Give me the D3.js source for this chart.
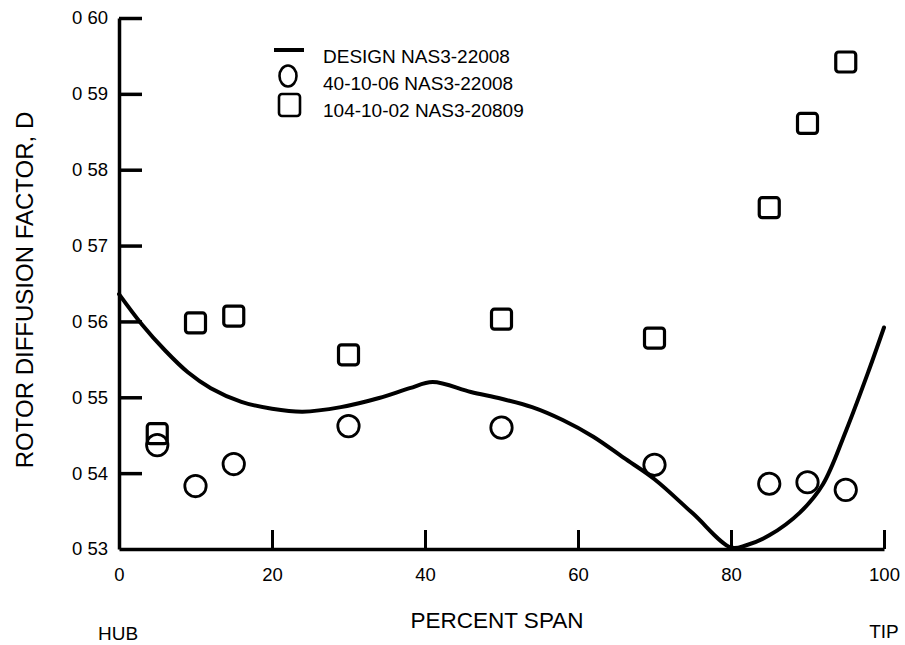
<!DOCTYPE html>
<html>
<head>
<meta charset="utf-8">
<script src="https://cdn.jsdelivr.net/npm/d3@7"></script>
<style>
  html, body { margin: 0; padding: 0; background: #fff; }
  svg { display: block; }
  text { font-family: "Liberation Sans", Arial, Helvetica, sans-serif; fill: #000; }
</style>
</head>
<body>
<svg id="chart" width="905" height="645"></svg>
<script>
// Design rotor diffusion factor along the span
const designSpan = [0, 3, 6, 9, 12, 16, 20, 24, 29, 34, 38, 41, 46, 50, 54, 58, 62, 66, 70, 75, 80, 82, 85, 89, 92, 95, 98, 100];
const designD    = [0.5636, 0.5596, 0.5562, 0.5533, 0.5512, 0.5494, 0.5485, 0.5481, 0.5487, 0.5499, 0.5512, 0.5520, 0.5507, 0.5498, 0.5487, 0.5470, 0.5448, 0.5420, 0.5392, 0.5347, 0.5302, 0.5305, 0.5318, 0.5348, 0.5385, 0.5455, 0.5535, 0.5592];

// Measured points, rotor 40-10-06 (NAS3-22008)
const rotor40Span = [5, 10, 15, 30, 50, 70, 85, 90, 95];
const rotor40D    = [0.5437, 0.5383, 0.5412, 0.5462, 0.5460, 0.5411, 0.5386, 0.5388, 0.5378];

// Measured points, rotor 104-10-02 (NAS3-20809)
const rotor104Span = [5, 10, 15, 30, 50, 70, 85, 90, 95];
const rotor104D    = [0.5452, 0.5598, 0.5607, 0.5556, 0.5603, 0.5578, 0.5750, 0.5861, 0.5942];

// Axis ticks
const xTickValues = [0, 20, 40, 60, 80, 100];
const xTickLabels = ["0", "20", "40", "60", "80", "100"];
const yTickValues = [0.53, 0.54, 0.55, 0.56, 0.57, 0.58, 0.59, 0.60];
const yTickLabels = ["0 53", "0 54", "0 55", "0 56", "0 57", "0 58", "0 59", "0 60"];

const legendLabels = ["DESIGN NAS3-22008", "40-10-06 NAS3-22008", "104-10-02 NAS3-20809"];

const svg = d3.select("#chart");

const x = d3.scaleLinear().domain([0, 100]).range([119, 884]);
const y = d3.scaleLinear().domain([0.53, 0.60]).range([549, 18]);

// Y axis: ticks point inward, labels on the left
const yAxis = d3.axisLeft(y)
  .tickValues(yTickValues)
  .tickFormat((d, i) => yTickLabels[i])
  .tickSizeInner(-23)
  .tickSizeOuter(0)
  .tickPadding(11);

const gy = svg.append("g").attr("transform", `translate(${x(0)},0)`).call(yAxis);
gy.select(".domain").attr("stroke", "#000").attr("stroke-width", 3.5);
gy.selectAll(".tick line").attr("stroke", "#000").attr("stroke-width", 3.5)
  .filter(d => d === 0.53).remove();
gy.selectAll(".tick text").attr("font-size", 18.5).attr("fill", "#000");

// X axis: ticks point upward
const xAxis = d3.axisBottom(x)
  .tickValues(xTickValues)
  .tickFormat((d, i) => xTickLabels[i])
  .tickSizeInner(-19)
  .tickSizeOuter(0)
  .tickPadding(19);

const gx = svg.append("g").attr("transform", `translate(0,${y(0.53)})`).call(xAxis);
gx.select(".domain").attr("stroke", "#000").attr("stroke-width", 3.5);
gx.selectAll(".tick line").attr("stroke", "#000").attr("stroke-width", 3)
  .filter(d => d === 0).remove();
gx.selectAll(".tick text").attr("font-size", 18.5).attr("fill", "#000");

// Axis titles
svg.append("text")
  .attr("x", 497).attr("y", 628)
  .attr("text-anchor", "middle")
  .attr("font-size", 22.5)
  .text("PERCENT SPAN");

svg.append("text")
  .attr("x", 118).attr("y", 640)
  .attr("text-anchor", "middle")
  .attr("font-size", 19)
  .text("HUB");

svg.append("text")
  .attr("x", 884).attr("y", 638)
  .attr("text-anchor", "middle")
  .attr("font-size", 19)
  .text("TIP");

svg.append("text")
  .attr("transform", "translate(33,290) rotate(-90)")
  .attr("text-anchor", "middle")
  .attr("font-size", 24)
  .text("ROTOR DIFFUSION FACTOR, D");

// Design curve
const designLine = d3.line()
  .x((d, i) => x(designSpan[i]))
  .y(d => y(d))
  .curve(d3.curveCatmullRom.alpha(0.5));

svg.append("path")
  .datum(designD)
  .attr("d", designLine)
  .attr("fill", "none")
  .attr("stroke", "#000")
  .attr("stroke-width", 4)
  .attr("stroke-linejoin", "round")
  .attr("stroke-linecap", "round");

// Rotor 104-10-02 squares
const sq = 20;
svg.append("g").selectAll("rect")
  .data(rotor104D)
  .join("rect")
  .attr("x", (d, i) => x(rotor104Span[i]) - sq / 2)
  .attr("y", d => y(d) - sq / 2)
  .attr("width", sq).attr("height", sq)
  .attr("rx", 3)
  .attr("fill", "none")
  .attr("stroke", "#000")
  .attr("stroke-width", 3.2);

// Rotor 40-10-06 circles
svg.append("g").selectAll("circle")
  .data(rotor40D)
  .join("circle")
  .attr("cx", (d, i) => x(rotor40Span[i]))
  .attr("cy", d => y(d))
  .attr("r", 10.7)
  .attr("fill", "none")
  .attr("stroke", "#000")
  .attr("stroke-width", 2.8);

// Legend
const legend = svg.append("g");
legend.append("line")
  .attr("x1", 274).attr("x2", 304).attr("y1", 50).attr("y2", 50)
  .attr("stroke", "#000").attr("stroke-width", 4);
legend.append("ellipse")
  .attr("cx", 288).attr("cy", 76).attr("rx", 8.5).attr("ry", 10.5)
  .attr("fill", "none").attr("stroke", "#000").attr("stroke-width", 2.6);
legend.append("rect")
  .attr("x", 279).attr("y", 94).attr("width", 21).attr("height", 22).attr("rx", 3)
  .attr("fill", "none").attr("stroke", "#000").attr("stroke-width", 2.6);
legend.selectAll("text.lg")
  .data(legendLabels)
  .join("text")
  .attr("class", "lg")
  .attr("x", 323)
  .attr("y", (d, i) => 63 + i * 27)
  .attr("font-size", 19)
  .text(d => d);
</script>
</body>
</html>
